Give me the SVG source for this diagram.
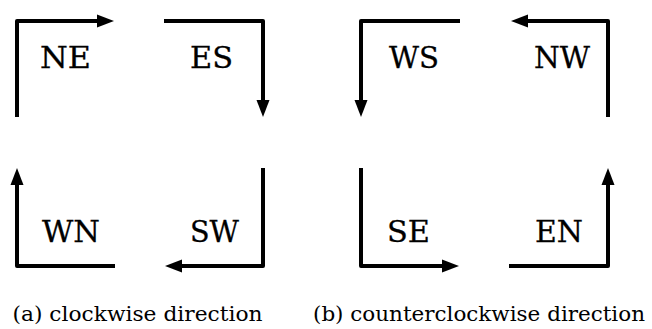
<svg xmlns="http://www.w3.org/2000/svg" width="652" height="329" viewBox="0 0 652 329">
  <style>
    .turn { fill: none; stroke: #000; stroke-width: 4; stroke-linejoin: round; marker-end: url(#head); }
    .lbl { font-family: "DejaVu Serif", "Liberation Serif", serif; font-size: 30px; text-anchor: middle; fill: #000; stroke: #000; stroke-width: 0.3; }
    .cap { font-family: "DejaVu Serif", "Liberation Serif", serif; font-size: 21px; text-anchor: middle; fill: #000; }
  </style>
  <defs>
    <marker id="head" markerUnits="userSpaceOnUse" viewBox="0 -7 17 14" markerWidth="17" markerHeight="14" refX="1" refY="0" orient="auto">
      <path d="M0,-6.5 L17,0 L0,6.5 z" fill="#000"/>
    </marker>
  </defs>

  <rect width="652" height="329" fill="#fff"/>

  <!-- bent arrows: one per turn -->
  <g id="connectors">
    <!-- clockwise -->
    <path class="turn" d="M17,117 V21 H98"/>
    <path class="turn" d="M164,21 H263 V101"/>
    <path class="turn" d="M263,168 V266 H181"/>
    <path class="turn" d="M115,266 H17 V184"/>
    <!-- counterclockwise -->
    <path class="turn" d="M460,21 H361 V101"/>
    <path class="turn" d="M608,117 V21 H527"/>
    <path class="turn" d="M361,168 V266 H443"/>
    <path class="turn" d="M509,266 H608 V184"/>
  </g>

  <!-- turn labels -->
  <g id="NE"><text class="lbl" x="65.5" y="68" textLength="51" lengthAdjust="spacingAndGlyphs">NE</text></g>
  <g id="ES"><text class="lbl" x="211.5" y="68" textLength="43" lengthAdjust="spacingAndGlyphs">ES</text></g>
  <g id="WN"><text class="lbl" x="71" y="242" textLength="58" lengthAdjust="spacingAndGlyphs">WN</text></g>
  <g id="SW"><text class="lbl" x="214.5" y="242" textLength="49" lengthAdjust="spacingAndGlyphs">SW</text></g>
  <g id="WS"><text class="lbl" x="414" y="68" textLength="50" lengthAdjust="spacingAndGlyphs">WS</text></g>
  <g id="NW"><text class="lbl" x="562" y="68" textLength="56" lengthAdjust="spacingAndGlyphs">NW</text></g>
  <g id="SE"><text class="lbl" x="408.5" y="242" textLength="43" lengthAdjust="spacingAndGlyphs">SE</text></g>
  <g id="EN"><text class="lbl" x="559" y="242" textLength="48" lengthAdjust="spacingAndGlyphs">EN</text></g>

  <!-- captions -->
  <g id="caption-a"><text class="cap" x="137.5" y="321" textLength="250" lengthAdjust="spacingAndGlyphs">(a) clockwise direction</text></g>
  <g id="caption-b"><text class="cap" x="479" y="321" textLength="332" lengthAdjust="spacingAndGlyphs">(b) counterclockwise direction</text></g>
</svg>
